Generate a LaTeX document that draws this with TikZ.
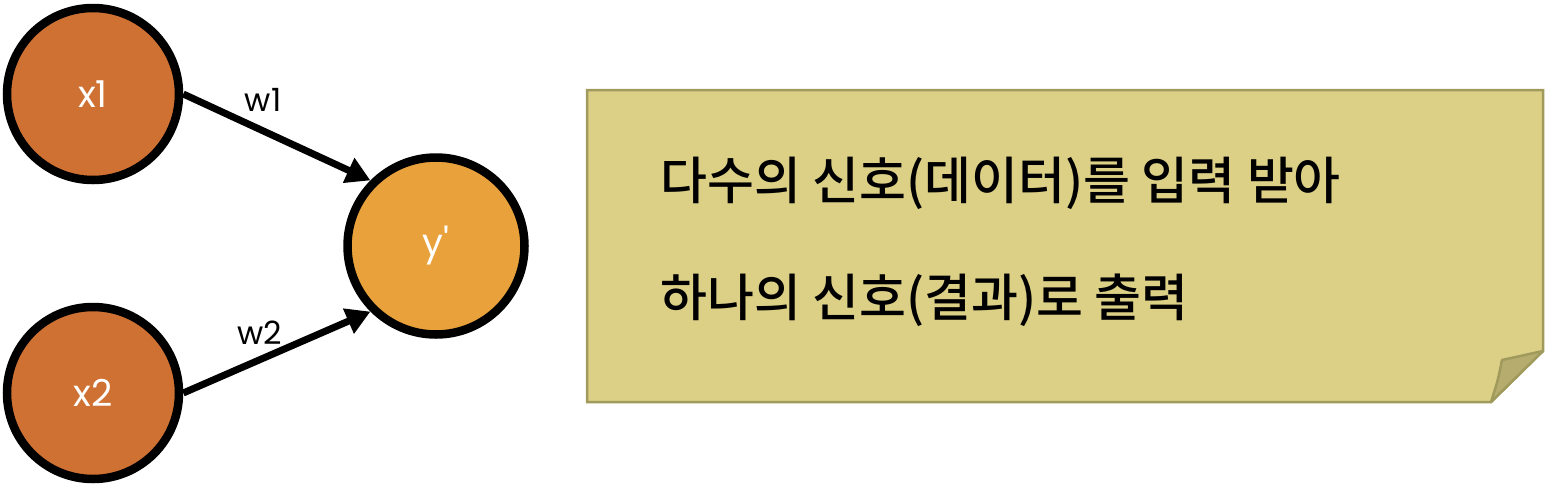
\documentclass[tikz,border=0pt]{standalone}
\usepackage{fontspec}
\setmainfont{Poppins}
\newfontfamily\kr{Noto Sans CJK KR Medium}
\usetikzlibrary{arrows.meta}
\definecolor{xorange}{HTML}{CF7133}
\definecolor{yorange}{HTML}{E9A13B}
\definecolor{notefill}{HTML}{DCD086}
\definecolor{noteline}{HTML}{A09A5C}
\definecolor{foldfill}{HTML}{B6AC6E}
\begin{document}
\begin{tikzpicture}[x=1pt,y=-1pt,
  neuron/.style={circle,draw=black,line width=8.5pt,minimum size=172pt,inner sep=0pt,text=white,font=\fontsize{37}{37}\selectfont},
  conn/.style={line width=7pt,-{Triangle[length=24pt,width=26pt]}},
  wlabel/.style={font=\fontsize{32}{32}\selectfont,text=black},
  notetext/.style={anchor=west,font=\kr\fontsize{51}{51}\selectfont,inner sep=0pt}]
\useasboundingbox (0,0) rectangle (1545,488);
\node[neuron,fill=xorange] (x1) at (93,94) {x1};
\node[neuron,fill=xorange] (x2) at (93,393) {x2};
\node[neuron,fill=yorange,minimum size=177pt] (y) at (436,246) {y\textquotesingle};
\draw[conn] (x1.east) -- (y.135);
\draw[conn] (x2.east) -- (y.-135);
\node[wlabel] (w1) at (263,100) {w1};
\node[wlabel] (w2) at (260,333) {w2};
% note
\draw[noteline,fill=notefill,line width=2.5pt] (587,90) -- (1543,90) -- (1543,351) -- (1491,402) -- (587,402) -- cycle;
\draw[noteline,fill=foldfill,line width=2.5pt,line join=round] (1543,351) -- (1502,360) .. controls (1498,380) .. (1491,402) -- cycle;
\node[notetext] (t1) at (660,183) {다수의 신호(데이터)를 입력 받아};
\node[notetext] (t2) at (660,300) {하나의 신호(결과)로 출력};
\end{tikzpicture}
\end{document}
